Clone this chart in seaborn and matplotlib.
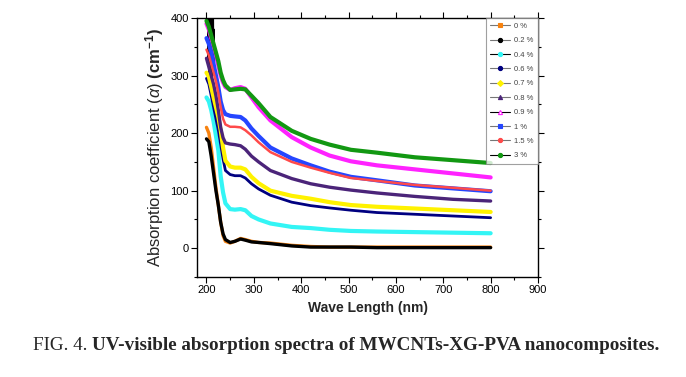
import numpy as np
import pandas as pd
import matplotlib
matplotlib.use("Agg")
import matplotlib.pyplot as plt
from matplotlib.lines import Line2D
import seaborn as sns

# ---------------- data ----------------
wavelength = [200, 205, 210, 215, 220, 225, 230, 235, 240, 250, 260, 272, 282,
              295, 310, 335, 380, 420, 460, 505, 560, 640, 720, 800]

labels = ["0 %", "0.2 %", "0.4 %", "0.6 %", "0.7 %", "0.8 %", "0.9 %", "1 %", "1.5 %", "3 %"]

s_0   = [210, 200, 175, 140, 105, 75, 45, 22, 12, 9, 12, 17, 15, 12, 10, 9, 5, 3, 2, 2, 2, 2, 2, 2]
s_02  = [190, 185, 160, 130, 100, 75, 45, 25, 15, 10, 12, 16, 14, 11, 10, 8, 4, 2, 2, 2, 1, 1, 1, 1]
s_04  = [262, 255, 240, 220, 195, 170, 125, 97, 78, 68, 67, 68, 66, 56, 50, 43, 37, 35, 32, 30, 29, 28, 27, 26]
s_06  = [295, 285, 265, 245, 225, 205, 180, 155, 135, 128, 126, 126, 122, 112, 103, 92, 80, 74, 70, 66, 62, 59, 56, 53]
s_07  = [305, 298, 280, 262, 245, 228, 205, 175, 152, 142, 140, 140, 137, 124, 113, 100, 91, 86, 80, 75, 72, 69, 66, 63]
s_08  = [330, 315, 300, 285, 265, 240, 210, 192, 183, 181, 180, 178, 172, 160, 150, 135, 121, 112, 106, 101, 96, 90, 85, 82]
s_09  = [390, 380, 365, 350, 335, 318, 300, 288, 280, 275, 278, 280, 277, 262, 245, 222, 193, 175, 161, 151, 144, 137, 130, 123]
s_1   = [365, 355, 340, 320, 300, 280, 255, 240, 233, 230, 229, 228, 222, 208, 195, 175, 156, 144, 133, 124, 118, 109, 104, 99]
s_15  = [345, 335, 320, 305, 290, 270, 245, 225, 215, 211, 211, 210, 205, 196, 184, 167, 150, 140, 131, 122, 117, 110, 105, 100]
s_3   = [395, 385, 370, 355, 340, 325, 305, 292, 283, 275, 276, 277, 276, 265, 252, 228, 204, 190, 180, 171, 166, 158, 153, 148]

# noisy spikes near the start of the spectra (dark trace)
spike_wl  = [203, 204, 205, 206, 207, 208, 209, 210, 211, 212, 213, 214, 215, 216]
spike_val = [330, 430, 300, 440, 320, 430, 290, 440, 310, 420, 300, 430, 320, 380]

x_ticks = [200, 300, 400, 500, 600, 700, 800, 900]
y_ticks = [0, 100, 200, 300, 400]

# ---------------- styling ----------------
colors = ["#F7820F", "#000000", "#33F5F5", "#000080", "#FFF200",
          "#4B2479", "#FF22FF", "#2546FF", "#FF4A4A", "#129812"]
widths = [2.4, 2.4, 3.0, 2.0, 3.0, 2.4, 3.0, 3.0, 1.8, 3.0]
leg_line = ["#777777", "#777777", "#000000", "#777777", "#777777",
            "#777777", "#000000", "#777777", "#777777", "#000000"]
leg_marker = ["s", "o", "o", "o", "D", "^", "^", "s", "o", "o"]
leg_fill = [True, True, True, True, True, True, False, True, True, True]

series = [s_0, s_02, s_04, s_06, s_07, s_08, s_09, s_1, s_15, s_3]

df = pd.DataFrame({
    "wl": np.tile(wavelength, len(series)),
    "val": np.concatenate(series),
    "sample": np.repeat(labels, len(wavelength)),
})

sns.set_theme(style="ticks")
plt.rcParams["font.family"] = ["Liberation Sans", "DejaVu Sans"]
plt.rcParams["mathtext.fontset"] = "custom"
plt.rcParams["mathtext.rm"] = "Liberation Sans"
plt.rcParams["mathtext.it"] = "Liberation Sans:italic"
plt.rcParams["mathtext.bf"] = "Liberation Sans:bold"

fig = plt.figure(figsize=(6.86, 3.77), dpi=100)
ax = fig.add_axes([197 / 686, 1 - 277 / 377, (538 - 197) / 686, (277 - 18) / 377])

ax.plot(spike_wl, spike_val, color="black", lw=1.2, zorder=1)
for lab, col, lw in zip(labels, colors, widths):
    sns.lineplot(data=df[df["sample"] == lab], x="wl", y="val", color=col,
                 linewidth=lw, ax=ax, legend=False, zorder=2)

ax.set_xlim(180, 900)
ax.set_ylim(-50, 400)
ax.set_xticks(x_ticks)
ax.set_yticks(y_ticks)
ax.set_xticks(np.arange(250, 900, 100), minor=True)
ax.set_yticks(np.arange(-50, 400, 100), minor=True)
ax.tick_params(which="both", direction="out", top=True, right=True,
               labelsize=8, colors="black", pad=2)
ax.tick_params(which="major", length=4, width=0.8)
ax.tick_params(which="minor", length=2.5, width=0.8)
for sp in ax.spines.values():
    sp.set_linewidth(1.0)
    sp.set_color("black")

ax.set_xlabel("Wave Length (nm)", fontsize=10, fontweight="bold", labelpad=4)
ax.set_ylabel(r"Absorption coefficient ($\alpha$) $\mathbf{(cm^{-1})}$", fontsize=12, labelpad=3)

handles = []
for lab, col, lc, mk, fill in zip(labels, colors, leg_line, leg_marker, leg_fill):
    handles.append(Line2D([], [], color=lc, lw=0.8, marker=mk, markersize=3,
                          markerfacecolor=col if fill else "white",
                          markeredgecolor=col, markeredgewidth=0.8))
leg = ax.legend(handles, labels, loc="upper right", fontsize=5.5, frameon=True,
                fancybox=False, borderaxespad=0, borderpad=0.6, handlelength=2.6,
                handletextpad=0.5, labelspacing=0.92, labelcolor="#444444")
leg.get_frame().set_edgecolor("#888888")
leg.get_frame().set_linewidth(0.8)

t1 = fig.text(33 / 686, 1 - 345 / 377, "FIG. 4. ", fontsize=13.8,
              family=["Liberation Serif", "DejaVu Serif"], va="center", ha="left")
ax.annotate("UV-visible absorption spectra of MWCNTs-XG-PVA nanocomposites.",
            xy=(1, 0.5), xycoords=t1, va="center", ha="left", fontsize=13.8,
            fontweight="bold", family=["Liberation Serif", "DejaVu Serif"],
            annotation_clip=False)

fig.savefig("out.png", dpi=100)
